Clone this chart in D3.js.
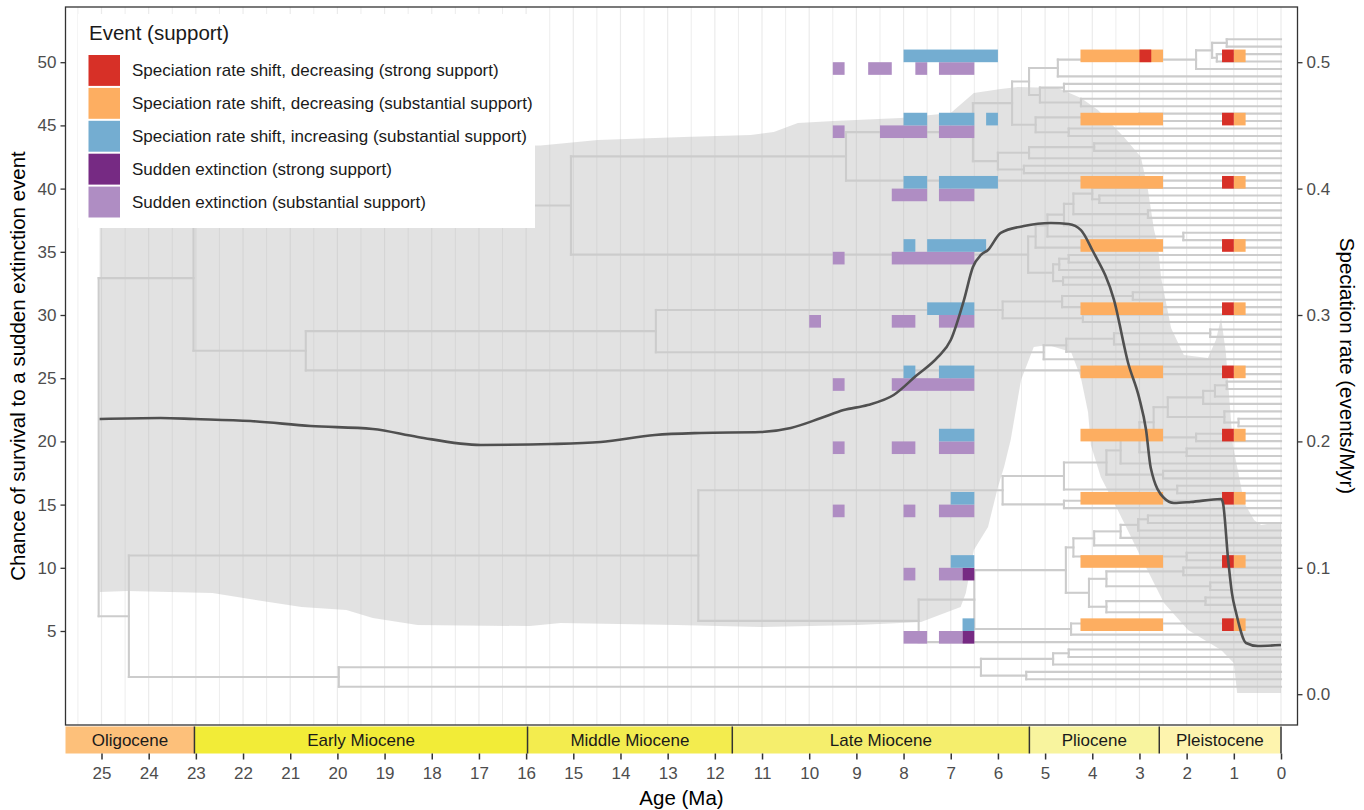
<!DOCTYPE html>
<html>
<head>
<meta charset="utf-8">
<script src="https://cdn.jsdelivr.net/npm/d3@7"></script>
<style>
  body { margin: 0; background: #fff; }
  text { font-family: "Liberation Sans", Arial, Helvetica, sans-serif; }
</style>
</head>
<body>
<svg id="chart" width="1364" height="810"></svg>
<script>
// ---------------- data ----------------
// Rows of the event panel (left-axis value of each row)
const eventRows = [50, 45, 40, 35, 30, 25, 20, 15, 10, 5];

// Events: [row, age from (Ma), age to (Ma)]
const shiftDecStrong = [
  [50, 3.0, 2.75],
  [50, 1.25, 1.0], [45, 1.25, 1.0], [40, 1.25, 1.0], [35, 1.25, 1.0], [30, 1.25, 1.0],
  [25, 1.25, 1.0], [20, 1.25, 1.0], [15, 1.25, 1.0], [10, 1.25, 1.0], [5, 1.25, 1.0]
];
const shiftDecSubst = [
  [50, 4.25, 2.5], [45, 4.25, 2.5], [40, 4.25, 2.5], [35, 4.25, 2.5], [30, 4.25, 2.5],
  [25, 4.25, 2.5], [20, 4.25, 2.5], [15, 4.25, 2.5], [10, 4.25, 2.5], [5, 4.25, 2.5],
  [50, 1.0, 0.75], [45, 1.0, 0.75], [40, 1.0, 0.75], [35, 1.0, 0.75], [30, 1.0, 0.75],
  [25, 1.0, 0.75], [20, 1.0, 0.75], [15, 1.0, 0.75], [10, 1.0, 0.75], [5, 1.0, 0.75]
];
const shiftIncSubst = [
  [50, 8.0, 6.0],
  [45, 8.0, 7.5], [45, 7.25, 6.5], [45, 6.25, 6.0],
  [40, 8.0, 7.5], [40, 7.25, 6.0],
  [35, 8.0, 7.75], [35, 7.5, 6.25],
  [30, 7.5, 6.5],
  [25, 8.0, 7.75], [25, 7.25, 6.5],
  [20, 7.25, 6.5],
  [15, 7.0, 6.5],
  [10, 7.0, 6.5],
  [5, 6.75, 6.5]
];
const extinctionStrong = [[10, 6.75, 6.5], [5, 6.75, 6.5]];
const extinctionSubst = [
  [50, 9.5, 9.25], [50, 8.75, 8.25], [50, 7.75, 7.5], [50, 7.25, 6.5],
  [45, 9.5, 9.25], [45, 8.5, 7.5], [45, 7.25, 6.5],
  [40, 8.25, 7.5], [40, 7.25, 6.5],
  [35, 9.5, 9.25], [35, 8.25, 6.5],
  [30, 10.0, 9.75], [30, 8.25, 7.75], [30, 7.25, 6.5],
  [25, 9.5, 9.25], [25, 8.25, 6.5],
  [20, 9.5, 9.25], [20, 8.25, 7.75], [20, 7.25, 6.5],
  [15, 9.5, 9.25], [15, 8.0, 7.75], [15, 7.25, 6.5],
  [10, 8.0, 7.75], [10, 7.25, 6.75],
  [5, 8.0, 7.5], [5, 7.25, 6.75]
];

// Mean speciation rate through time
const rateAge = [25.04, 23.75, 23.03, 21.84, 20.57, 19.25, 18.3, 16.96, 15.46, 14.42, 13.27, 12.3,
  11.03, 10.39, 9.75, 9.27, 8.76, 8.21, 7.74, 7.27, 7.0, 6.72, 6.53, 6.36, 6.21, 5.94, 5.45, 4.88,
  4.5, 4.24, 4.0, 3.54, 3.24, 3.01, 2.86, 2.76, 2.48, 2.27, 1.91, 1.27, 1.23, 1.12, 1.04, 0.95,
  0.74, 0.49, 0];
const rateMean = [0.2177, 0.2185, 0.2177, 0.2161, 0.2122, 0.2098, 0.2035, 0.1972, 0.1979, 0.1995,
  0.2051, 0.2067, 0.2074, 0.2106, 0.2185, 0.2248, 0.2288, 0.2367, 0.2517, 0.2668, 0.2802, 0.3118,
  0.338, 0.3475, 0.3514, 0.365, 0.3704, 0.3728, 0.372, 0.3672, 0.3514, 0.3119, 0.262, 0.235, 0.209,
  0.179, 0.1552, 0.1513, 0.1521, 0.1544, 0.1513, 0.1062, 0.080, 0.0642, 0.0405, 0.0381, 0.0389];

// Credible interval of the speciation rate
const bandUpperAge = [25.04, 15.69, 14.48, 12.66, 11.24, 10.75, 10.24, 9.48, 8.06, 7.0, 6.51, 5.94,
  5.58, 4.73, 4.24, 3.88, 3.33, 2.97, 2.82, 2.69, 2.61, 2.54, 2.33, 2.06, 1.55, 1.38, 1.27, 1.17,
  1.02, 0.78, 0.57, 0.42, 0];
const bandUpperRate = [0.432, 0.434, 0.4385, 0.4408, 0.4424, 0.4448, 0.4519, 0.4535, 0.4559, 0.4598,
  0.4756, 0.4788, 0.4804, 0.4796, 0.4717, 0.4622, 0.4408, 0.425, 0.3989, 0.3672, 0.3554, 0.3293,
  0.2897, 0.2684, 0.266, 0.2802, 0.2976, 0.2707, 0.1972, 0.1513, 0.1378, 0.1339, 0.1362];
const bandLowerAge = [25.04, 24.45, 22.65, 21.99, 20.76, 19.81, 19.25, 18.3, 15.92, 15.27, 12.81,
  11.03, 8.97, 7.63, 6.79, 6.68, 6.51, 6.21, 6.0, 5.87, 5.73, 5.51, 5.24, 4.94, 4.45, 4.24, 4.09,
  4.03, 3.82, 3.46, 2.97, 2.48, 1.97, 1.27, 1.0, 0.93, 0];
const bandLowerRate = [0.0809, 0.0816, 0.0801, 0.0761, 0.069, 0.0666, 0.0603, 0.0547, 0.0539, 0.0563,
  0.0547, 0.0532, 0.0547, 0.0571, 0.069, 0.080, 0.1141, 0.1323, 0.164, 0.1798, 0.2011, 0.2486,
  0.2747, 0.2763, 0.2707, 0.2502, 0.2233, 0.1972, 0.1718, 0.1457, 0.1085, 0.0722, 0.0508, 0.035,
  0.0247, 0.0009, 0.0009];

// Time-calibrated phylogeny: [node age (Ma), child, child]; tips are 0 (present day)
const tip = 0;
const phylogeny =
[25.06,
  [23.05,
    [15.05,
      [9.22,
        [6.53,
          [5.70,
            [5.34,
              [4.73, [1.80, [1.46, [1.15, tip, tip], [1.36, tip, tip]], tip], tip],
              [5.11, [4.60, tip, tip], [4.24, tip, tip]]],
            [5.20, [3.0, tip, tip], [4.5, tip, tip]]],
          [6.0, [5.34, [3.96, tip, tip], tip], [5.45, tip, tip]]],
        tip],
      [5.36,
        [5.20,
          [4.95,
            [4.6, [4.4, [4.0, tip, [3.85, tip, tip]], [2.82, tip, tip]], tip],
            [2.07, tip, tip]],
          tip],
        [4.83, [4.7, [4.5, tip, tip], tip], [4.62, tip, tip]]]],
    [20.67,
      [13.25,
        [5.9, [4.64, [3.14, tip, tip], tip], [4.2, tip, tip]],
        [5.03, [4.55, [3.54, [1.5, tip, tip], tip], tip], tip]],
      [3.5, tip, tip]]],
  [24.42,
    [12.35,
      [5.9,
        [4.6,
          [3.7,
            [3.4,
              [3.0,
                [2.7,
                  [2.4, [1.65, [1.4, [1.15, tip, tip], tip], tip], [1.2, tip, [0.9, tip, tip]]],
                  [1.8, tip, tip]],
                [2.0, tip, tip]],
              tip],
            [2.5, tip, tip]],
          [2.2, tip, tip]],
        [4.6, tip, tip]],
      [7.68,
        [6.5,
          [4.56,
            [4.4, [3.96, [3.4, [3.03, [2.82, tip, tip], tip], tip], tip], [2.0, tip, tip]],
            [4.07, [3.7, [2.07, tip, tip], [1.5, tip, tip]], [3.7, [1.6, tip, tip], tip]]],
          [4.45, [1.2, tip, tip], tip]],
        tip]],
    [19.97,
      [6.36, [4.83, [4.5, tip, tip], tip], [5.4, tip, tip]],
      tip]]];

// Geological time scale
const epochName = ["Oligocene", "Early Miocene", "Middle Miocene", "Late Miocene", "Pliocene", "Pleistocene"];
const epochStart = [33.9, 23.03, 15.97, 11.63, 5.333, 2.58];
const epochEnd = [23.03, 15.97, 11.63, 5.333, 2.58, 0.0117];
const epochColor = ["#FDC07A", "#F2EC37", "#F3EC4E", "#F5EE6C", "#F8F49E", "#FEF4AE"];

const ageTicks = d3.range(0, 26, 1);
const leftTicks = [5, 10, 15, 20, 25, 30, 35, 40, 45, 50];
const rightTicks = [0, 0.1, 0.2, 0.3, 0.4, 0.5];

const legendLabels = [
  "Speciation rate shift, decreasing (strong support)",
  "Speciation rate shift, decreasing (substantial support)",
  "Speciation rate shift, increasing (substantial support)",
  "Sudden extinction (strong support)",
  "Sudden extinction (substantial support)"
];
const legendColors = ["#D73027", "#FDAE61", "#74ADD1", "#762A83", "#AF8DC3"];

// ---------------- layout ----------------
const panel = { left: 65.5, right: 1297.5, top: 7, bottom: 725 };
const svg = d3.select("#chart");

const x = d3.scaleLinear().domain([25, 0]).range([101.5, 1281]);
const y = d3.scaleLinear().domain([0, 50]).range([694.2, 62.2]);          // left axis units
const yRate = d3.scaleLinear().domain([0, 0.5]).range([694.2, 62.2]);     // right axis units

const tickColor = "#333333";
const labelColor = "#4d4d4d";

svg.append("defs").append("clipPath").attr("id", "panelClip")
  .append("rect").attr("x", panel.left).attr("y", panel.top)
  .attr("width", panel.right - panel.left).attr("height", panel.bottom - panel.top);

const plot = svg.append("g").attr("clip-path", "url(#panelClip)");

// vertical grid lines every half million years
plot.append("g").selectAll("line")
  .data(d3.range(0, 26, 0.5))
  .join("line")
  .attr("x1", d => x(d)).attr("x2", d => x(d))
  .attr("y1", panel.top).attr("y2", panel.bottom)
  .attr("stroke", "#ebebeb").attr("stroke-width", d => Number.isInteger(d) ? 1.2 : 0.9);

// credible band of the speciation rate
const upperPts = bandUpperAge.map((a, i) => [a, bandUpperRate[i]]);
const lowerPts = bandLowerAge.map((a, i) => [a, bandLowerRate[i]]).reverse();
plot.append("path")
  .attr("d", d3.line().x(d => x(d[0])).y(d => yRate(d[1]))(upperPts.concat(lowerPts)) + "Z")
  .attr("fill", "#b3b3b3").attr("fill-opacity", 0.38);

// phylogeny
const nTips = (function count(n) { return Array.isArray(n) ? count(n[1]) + count(n[2]) : 1; })(phylogeny);
const tipStep = 51.82 / nTips;
let tipCounter = 0;
function build(n) {
  if (!Array.isArray(n)) {
    const k = tipCounter++;
    return { age: 0, v: (nTips - k) * tipStep, children: [] };
  }
  const kids = [build(n[1]), build(n[2])];
  return { age: n[0], v: d3.mean(kids, c => c.v), children: kids };
}
const treeRoot = build(phylogeny);
const segs = [];
(function collect(nd) {
  if (!nd.children.length) return;
  const vs = nd.children.map(c => c.v);
  segs.push([nd.age, d3.min(vs), nd.age, d3.max(vs)]);
  nd.children.forEach(c => { segs.push([nd.age, c.v, c.age, c.v]); collect(c); });
})(treeRoot);
plot.append("g").selectAll("line")
  .data(segs)
  .join("line")
  .attr("x1", d => x(d[0])).attr("y1", d => y(d[1]))
  .attr("x2", d => x(d[2])).attr("y2", d => y(d[3]))
  .attr("stroke", "#cccccc").attr("stroke-width", 2.1).attr("stroke-linecap", "square");

// events: rate shifts sit above each row value, extinctions below
function drawEvents(data, color, upper) {
  plot.append("g").selectAll("rect")
    .data(data)
    .join("rect")
    .attr("x", d => x(d[1]))
    .attr("width", d => x(d[2]) - x(d[1]))
    .attr("y", d => upper ? y(d[0] + 1) : y(d[0]))
    .attr("height", d => y(d[0] - 1) - y(d[0]))
    .attr("fill", color);
}
drawEvents(extinctionSubst, legendColors[4], false);
drawEvents(extinctionStrong, legendColors[3], false);
drawEvents(shiftIncSubst, legendColors[2], true);
drawEvents(shiftDecSubst, legendColors[1], true);
drawEvents(shiftDecStrong, legendColors[0], true);

// mean speciation rate
plot.append("path")
  .datum(rateAge.map((a, i) => [a, rateMean[i]]))
  .attr("d", d3.line().x(d => x(d[0])).y(d => yRate(d[1])).curve(d3.curveMonotoneX))
  .attr("fill", "none").attr("stroke", "#505050").attr("stroke-width", 2.6)
  .attr("stroke-linejoin", "round");

// panel border
svg.append("rect")
  .attr("x", panel.left).attr("y", panel.top)
  .attr("width", panel.right - panel.left).attr("height", panel.bottom - panel.top)
  .attr("fill", "none").attr("stroke", tickColor).attr("stroke-width", 1.3);

// left axis
const leftAxis = svg.append("g").attr("transform", `translate(${panel.left},0)`)
  .call(d3.axisLeft(y).tickValues(leftTicks).tickSize(5).tickPadding(4).tickFormat(d3.format("d")));
leftAxis.select(".domain").remove();
leftAxis.selectAll("line").attr("stroke", tickColor).attr("stroke-width", 1.3);
leftAxis.selectAll("text").attr("fill", labelColor).style("font-size", "17px")
  .style("font-family", "'Liberation Sans', Arial, sans-serif");

// right axis
const rightAxis = svg.append("g").attr("transform", `translate(${panel.right},0)`)
  .call(d3.axisRight(yRate).tickValues(rightTicks).tickSize(5).tickPadding(4).tickFormat(d3.format(".1f")));
rightAxis.select(".domain").remove();
rightAxis.selectAll("line").attr("stroke", tickColor).attr("stroke-width", 1.3);
rightAxis.selectAll("text").attr("fill", labelColor).style("font-size", "17px")
  .style("font-family", "'Liberation Sans', Arial, sans-serif");

// geological time scale band
const band = { top: 726.5, bottom: 753.5 };
const epochs = epochName.map((n, i) => ({ name: n, start: epochStart[i], end: epochEnd[i], color: epochColor[i] }));
const bandG = svg.append("g");
bandG.selectAll("rect").data(epochs).join("rect")
  .attr("x", d => Math.max(panel.left, x(d.start)))
  .attr("width", d => x(d.end) - Math.max(panel.left, x(d.start)))
  .attr("y", band.top).attr("height", band.bottom - band.top)
  .attr("fill", d => d.color);
bandG.selectAll("text").data(epochs).join("text")
  .attr("x", d => (Math.max(panel.left, x(d.start)) + x(d.end)) / 2)
  .attr("y", (band.top + band.bottom) / 2)
  .attr("dy", "0.35em").attr("text-anchor", "middle")
  .attr("fill", "#1a1a1a").style("font-size", "17px")
  .text(d => d.name);
bandG.selectAll("line.sep").data(epochs.filter(d => x(d.start) > panel.left).map(d => d.start).concat([0]))
  .join("line").attr("class", "sep")
  .attr("x1", d => x(d)).attr("x2", d => x(d))
  .attr("y1", band.top).attr("y2", band.bottom)
  .attr("stroke", tickColor).attr("stroke-width", 1.5);

// bottom axis
const bottomAxis = svg.append("g").attr("transform", `translate(0,${band.bottom})`)
  .call(d3.axisBottom(x).tickValues(ageTicks).tickSize(6).tickPadding(7).tickFormat(d3.format("d")));
bottomAxis.select(".domain").remove();
bottomAxis.selectAll("line").attr("stroke", tickColor).attr("stroke-width", 1.5);
bottomAxis.selectAll("text").attr("fill", labelColor).style("font-size", "17px")
  .style("font-family", "'Liberation Sans', Arial, sans-serif");

// axis titles
svg.append("text").attr("x", (panel.left + panel.right) / 2 + 0).attr("y", 805)
  .attr("text-anchor", "middle").style("font-size", "20.5px").attr("fill", "#000")
  .text("Age (Ma)");
svg.append("text")
  .attr("transform", `translate(25,${(panel.top + panel.bottom) / 2}) rotate(-90)`)
  .attr("text-anchor", "middle").style("font-size", "20.5px").attr("fill", "#000")
  .text("Chance of survival to a sudden extinction event");
svg.append("text")
  .attr("transform", `translate(1340,${(panel.top + panel.bottom) / 2}) rotate(90)`)
  .attr("text-anchor", "middle").style("font-size", "20.5px").attr("fill", "#000")
  .text("Speciation rate (events/Myr)");

// legend
const legend = svg.append("g").attr("transform", "translate(78,14)");
legend.append("rect").attr("width", 457).attr("height", 214).attr("fill", "#fff");
legend.append("text").attr("x", 11).attr("y", 26).style("font-size", "20.5px").attr("fill", "#1a1a1a")
  .text("Event (support)");
const keyH = 32.9;
const items = legend.selectAll("g.item").data(legendLabels).join("g").attr("class", "item")
  .attr("transform", (d, i) => `translate(10.5,${41 + i * keyH})`);
items.append("rect").attr("width", 31.5).attr("height", keyH - 2)
  .attr("fill", (d, i) => legendColors[i]);
items.append("text").attr("x", 43.5).attr("y", (keyH - 2) / 2).attr("dy", "0.35em")
  .style("font-size", "17px").attr("fill", "#1a1a1a").text(d => d);
</script>
</body>
</html>
